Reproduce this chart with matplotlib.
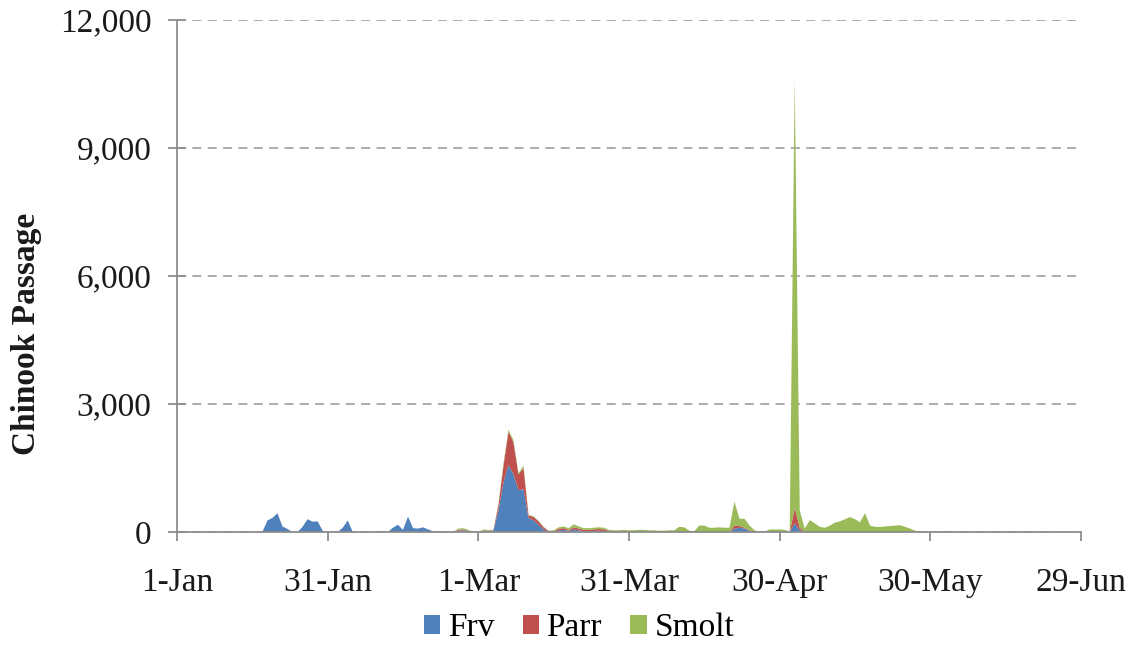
import matplotlib
matplotlib.use("Agg")
import matplotlib.pyplot as plt
import numpy as np
import pandas as pd

# ---- data (daily passage, 1-Jan .. 29-Jun, leap year) ----
start_date = "2016-01-01"
n_days = 181

frv = [
    0, 0, 0, 0, 0, 0, 0, 0, 0, 0,
    0, 0, 0, 0, 0, 0, 0, 0, 270, 330,
    440, 130, 70, 0, 0, 120, 300, 240, 250, 30,
    0, 0, 0, 100, 270, 0, 0, 0, 0, 0,
    10, 0, 0, 100, 170, 50, 360, 90, 80, 110,
    60, 20, 0, 0, 0, 0, 30, 40, 20, 0,
    0, 30, 20, 30, 500, 1150, 1570, 1350, 980, 1000,
    330, 270, 170, 60, 0, 10, 40, 50, 30, 60,
    40, 20, 10, 20, 30, 20, 10, 0, 0, 0,
    0, 0, 0, 0, 0, 0, 0, 0, 0, 0,
    0, 0, 0, 0, 0, 0, 0, 0, 0, 0,
    0, 80, 100, 80, 30, 0, 0, 0, 0, 0,
    0, 0, 0, 200, 40, 0, 0, 0, 0, 0,
] + [0] * 51

parr = [
    0, 0, 0, 0, 0, 0, 0, 0, 0, 0,
    0, 0, 0, 0, 0, 0, 0, 0, 0, 0,
    0, 0, 0, 0, 0, 0, 0, 0, 0, 0,
    0, 0, 0, 0, 0, 0, 0, 0, 0, 0,
    0, 0, 0, 0, 0, 0, 0, 0, 0, 0,
    0, 0, 0, 0, 0, 0, 20, 20, 10, 0,
    0, 10, 10, 10, 120, 400, 780, 750, 370, 500,
    60, 80, 80, 50, 20, 10, 40, 40, 20, 50,
    40, 30, 40, 40, 40, 40, 20, 10, 10, 10,
    0, 0, 0, 0, 0, 0, 0, 0, 0, 0,
    0, 0, 0, 0, 0, 0, 0, 0, 0, 0,
    0, 70, 40, 20, 10, 0, 0, 0, 0, 0,
    0, 0, 0, 360, 60, 0, 0, 0, 0, 0,
] + [0] * 51

smolt = [
    0, 0, 0, 0, 0, 0, 0, 0, 0, 0,
    0, 0, 0, 0, 0, 0, 0, 0, 0, 0,
    0, 0, 0, 0, 0, 0, 0, 0, 0, 0,
    0, 0, 0, 0, 0, 0, 0, 0, 0, 0,
    0, 0, 0, 0, 0, 0, 0, 0, 0, 0,
    0, 0, 0, 0, 0, 0, 30, 30, 20, 0,
    0, 20, 20, 10, 30, 50, 50, 50, 30, 50,
    10, 20, 10, 10, 10, 20, 30, 40, 40, 70,
    50, 40, 40, 40, 40, 40, 20, 30, 30, 40,
    40, 40, 50, 50, 40, 40, 30, 30, 40, 40,
    120, 110, 30, 20, 150, 150, 100, 100, 110, 100,
    100, 560, 170, 210, 110, 40, 10, 10, 60, 60,
    60, 50, 10, 10040, 400, 80, 280, 200, 120, 100,
    150, 220, 250, 300, 350, 300, 230, 440, 150, 120,
    120, 130, 140, 150, 160, 120, 80, 30, 20, 15,
    10, 20, 10, 20, 10, 10, 0, 0, 0, 0,
] + [0] * 21

series_names = ["Frv", "Parr", "Smolt"]
series_colors = ["#4F81BD", "#C0504D", "#9BBB59"]
tick_labels = ["1-Jan", "31-Jan", "1-Mar", "31-Mar", "30-Apr", "30-May", "29-Jun"]
y_ticks = [0, 3000, 6000, 9000, 12000]
y_label = "Chinook Passage"

# ---- figure ----
plt.rcParams["font.family"] = ["Liberation Serif", "DejaVu Serif"]
fig = plt.figure(figsize=(11.29, 6.45), dpi=100)
ax = fig.add_axes([177 / 1129, 1 - 532 / 645, (1081 - 177) / 1129, (532 - 20) / 645])

days = np.arange(n_days)
ax.stackplot(days, frv, parr, smolt, colors=series_colors, labels=series_names,
             linewidth=0)

t0 = pd.Timestamp(start_date)
tick_pos = [(pd.to_datetime(lbl + "-2016", format="%d-%b-%Y") - t0).days for lbl in tick_labels]

ax.set_xlim(0, 180)
ax.set_ylim(0, 12000)
ax.set_xticks(tick_pos)
ax.set_xticklabels(tick_labels)
ax.set_yticks(y_ticks)
ax.set_yticklabels([f"{v:,}" for v in y_ticks])

ax.yaxis.grid(True, color="#a6a6a6", linestyle=(0, (5, 3.5)), linewidth=1.3)
ax.set_axisbelow(True)
for s in ["top", "right"]:
    ax.spines[s].set_visible(False)
for s in ["left", "bottom"]:
    ax.spines[s].set_color("#8c8c8c")
    ax.spines[s].set_linewidth(1.3)

ax.tick_params(axis="y", direction="inout", length=13, width=1.3, color="#8c8c8c",
               pad=12, labelsize=24, labelcolor="#1a1a1a")
ax.tick_params(axis="x", direction="out", length=6.5, width=1.3, color="#8c8c8c",
               pad=19, labelsize=24, labelcolor="#1a1a1a")

fig.text(27 / 1129, 1 - 334 / 645, y_label, rotation=90, fontsize=24,
         fontweight="bold", ha="center", va="center", color="#1a1a1a")

leg = fig.legend(loc="center", bbox_to_anchor=(579 / 1129, 1 - 628 / 645), ncol=3,
                 frameon=False, fontsize=24, handlelength=0.5, handleheight=0.5,
                 handletextpad=0.22, columnspacing=0.85, borderaxespad=0)

fig.savefig("out.png", dpi=100)
